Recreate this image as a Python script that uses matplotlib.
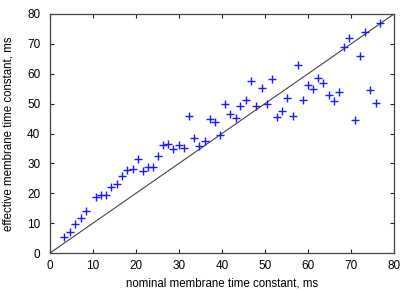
import matplotlib
matplotlib.use("Agg")
import matplotlib.pyplot as plt

nominal = [3.3, 4.6, 5.9, 7.1, 8.3, 10.7, 11.9, 13.1, 14.3, 15.5, 16.7, 18.0, 19.2, 20.4,
           21.6, 22.7, 24.0, 25.1, 26.3, 27.5, 28.7, 29.9, 31.1, 32.3, 33.5, 34.7, 36.0,
           37.1, 38.4, 39.5, 40.8, 41.9, 43.2, 44.3, 45.6, 46.8, 48.0, 49.2, 50.4, 51.6,
           52.8, 54.0, 55.2, 56.4, 57.7, 58.8, 60.0, 61.2, 62.4, 63.6, 64.8, 66.0, 67.2,
           68.4, 69.6, 70.9, 72.0, 73.3, 74.4, 75.7, 76.8]
effective = [5.4, 7.1, 9.8, 11.8, 14.1, 18.7, 19.3, 19.3, 22.1, 23.2, 25.8, 27.9, 28.2, 31.4,
             27.4, 28.7, 28.9, 32.5, 36.2, 36.5, 34.8, 36.2, 35.3, 46.0, 38.4, 35.8, 37.6,
             44.9, 43.7, 39.5, 49.9, 46.5, 45.2, 49.1, 51.2, 57.6, 49.2, 55.3, 49.8, 58.2,
             45.4, 47.5, 51.9, 45.9, 62.8, 51.3, 56.1, 54.8, 58.5, 57.0, 52.8, 50.8, 53.8,
             68.9, 71.9, 44.5, 65.9, 74.0, 54.6, 50.3, 77.0]
identity = [0, 80]
ticks = [0, 10, 20, 30, 40, 50, 60, 70, 80]

plt.rcParams['font.family'] = ['Liberation Sans', 'DejaVu Sans']
fig = plt.figure(figsize=(4.15, 2.91), dpi=100)
ax = fig.add_axes([50/415, 1-253/291, 344/415, 239/291])

ax.plot(identity, identity, color='#444444', lw=0.8)
ax.plot(nominal, effective, linestyle='none', marker='+', color='#1a1aff',
        markersize=5.5, markeredgewidth=1.0)

ax.set_xlim(0, 80)
ax.set_ylim(0, 80)
ax.set_xticks(ticks)
ax.set_yticks(ticks)
ax.tick_params(direction='in', length=3, width=0.8, labelsize=8.5, top=True, right=True,
               colors='#222222', labelcolor='black')
ax.tick_params(axis='x', pad=5)
ax.tick_params(axis='y', pad=7)
for s in ax.spines.values():
    s.set_color('#444444')
    s.set_linewidth(0.9)
ax.set_xlabel('nominal membrane time constant, ms', fontsize=8.3, labelpad=4)
ax.set_ylabel('effective membrane time constant, ms', fontsize=8.3, labelpad=9)

fig.savefig('out.png', dpi=100)
